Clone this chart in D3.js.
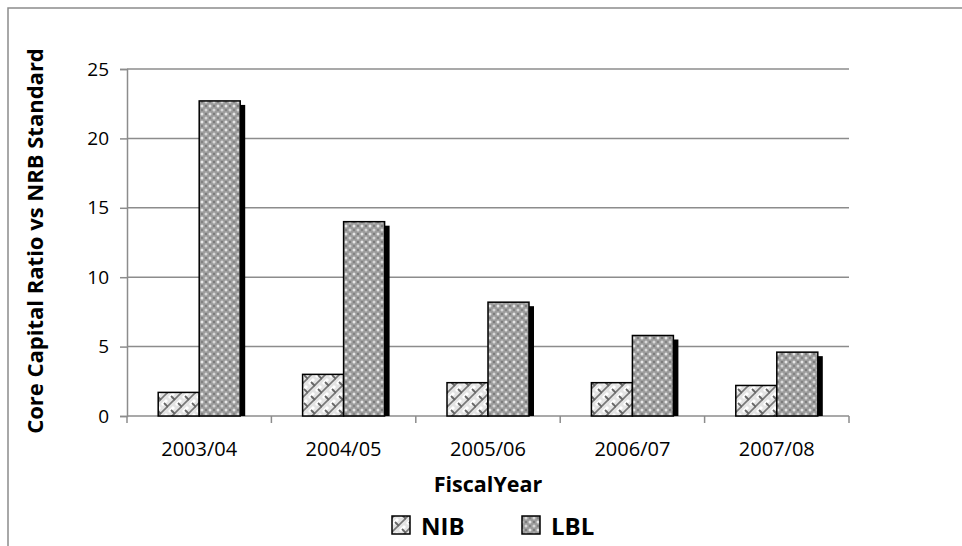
<!DOCTYPE html>
<html>
<head>
<meta charset="utf-8">
<script src="https://cdn.jsdelivr.net/npm/d3@7"></script>
<style>
  html, body { margin: 0; padding: 0; background: #fff; }
  svg { display: block; font-family: "Open Sans", "DejaVu Sans", sans-serif; }
</style>
</head>
<body>
<svg id="chart" width="962" height="546"></svg>
<script>
// Fiscal years on the category axis
const years = ["2003/04", "2004/05", "2005/06", "2006/07", "2007/08"];
// Core capital ratio for each bank
const nibValues = [1.7, 3.0, 2.4, 2.4, 2.2];
const lblValues = [22.7, 14.0, 8.2, 5.8, 4.6];
const seriesNames = ["NIB", "LBL"];
const yTicks = [0, 5, 10, 15, 20, 25];

const svg = d3.select("#chart");
const W = 962, H = 546;
const plot = { left: 127, right: 849, top: 69, bottom: 416 };

// Fill patterns for the two series
const defs = svg.append("defs");

// NIB: light diagonal brick weave
const pNib = defs.append("pattern")
  .attr("id", "pat-nib").attr("patternUnits", "userSpaceOnUse")
  .attr("width", 14).attr("height", 14);
pNib.append("rect").attr("width", 14).attr("height", 14).attr("fill", "#e4e4e4");
pNib.append("path").attr("d", "M1,6 L6,1 M8,13 L13,8 M-6,13 L-1,8 M8,-1 L13,-6")
  .attr("stroke", "#ffffff").attr("stroke-width", 3).attr("fill", "none");
pNib.append("path").attr("d", "M-2,16 L16,-2 M-9,9 L9,-9 M5,23 L23,5")
  .attr("stroke", "#777").attr("stroke-width", 1.6).attr("fill", "none");
pNib.append("path").attr("d", "M3,4 L7,8 M10,11 L14,15 M-4,11 L0,15 M10,-3 L14,1")
  .attr("stroke", "#666").attr("stroke-width", 1.8).attr("fill", "none");

// LBL: grey dotted mesh
const pLbl = defs.append("pattern")
  .attr("id", "pat-lbl").attr("patternUnits", "userSpaceOnUse")
  .attr("width", 8).attr("height", 8);
pLbl.append("rect").attr("width", 8).attr("height", 8).attr("fill", "#9c9c9c");
pLbl.append("circle").attr("cx", 2).attr("cy", 2).attr("r", 1.5).attr("fill", "#e6e6e6");
pLbl.append("circle").attr("cx", 6).attr("cy", 6).attr("r", 1.5).attr("fill", "#d8d8d8");
pLbl.append("circle").attr("cx", 6).attr("cy", 2).attr("r", 0.9).attr("fill", "#6e6e6e");
pLbl.append("circle").attr("cx", 2).attr("cy", 6).attr("r", 0.9).attr("fill", "#777");

const fills = { NIB: "url(#pat-nib)", LBL: "url(#pat-lbl)" };

// Chart area border
svg.append("path")
  .attr("d", `M8,${H} L8,8 L${W},8`)
  .attr("fill", "none").attr("stroke", "#8c8c8c").attr("stroke-width", 1.5);

const x = d3.scaleBand().domain(years).range([plot.left, plot.right]).paddingInner(0).paddingOuter(0);
const y = d3.scaleLinear().domain([0, 25]).range([plot.bottom, plot.top]);

// Horizontal gridlines
svg.append("g").selectAll("line").data(yTicks.filter(t => t > 0)).join("line")
  .attr("x1", plot.left).attr("x2", plot.right)
  .attr("y1", d => y(d)).attr("y2", d => y(d))
  .attr("stroke", "#8c8c8c").attr("stroke-width", 1.5);

// Y axis
const yAxis = svg.append("g").attr("transform", `translate(${plot.left},0)`)
  .call(d3.axisLeft(y).tickValues(yTicks).tickSize(7).tickPadding(11));
yAxis.select(".domain").attr("stroke", "#8c8c8c").attr("stroke-width", 1.5);
yAxis.selectAll(".tick line").attr("stroke", "#8c8c8c").attr("stroke-width", 1.5);
yAxis.selectAll(".tick text").attr("font-size", 19).attr("fill", "#000")
  .attr("font-family", "'Open Sans', sans-serif");

// X axis with ticks on category boundaries
const xAxisG = svg.append("g").attr("transform", `translate(0,${plot.bottom})`);
xAxisG.append("line").attr("x1", plot.left).attr("x2", plot.right)
  .attr("stroke", "#8c8c8c").attr("stroke-width", 1.5);
const bounds = years.map(d => x(d)).concat([x(years[years.length - 1]) + x.bandwidth()]);
xAxisG.selectAll("line.tk").data(bounds).join("line").attr("class", "tk")
  .attr("x1", d => d).attr("x2", d => d).attr("y1", 0).attr("y2", 7)
  .attr("stroke", "#8c8c8c").attr("stroke-width", 1.5);
xAxisG.selectAll("text").data(years).join("text")
  .attr("x", d => x(d) + x.bandwidth() / 2).attr("y", 40)
  .attr("text-anchor", "middle").attr("font-size", 20).attr("fill", "#000")
  .text(d => d);

// Bars
const barW = 41;
const rows = years.map((yr, i) => ({ yr, NIB: nibValues[i], LBL: lblValues[i] }));
const barData = [];
rows.forEach(r => seriesNames.forEach((s, j) => barData.push({ yr: r.yr, s, j, v: r[s] })));
const bx = d => x(d.yr) + x.bandwidth() / 2 - barW + d.j * barW;

const bars = svg.append("g");
bars.selectAll("rect.shadow").data(barData).join("rect").attr("class", "shadow")
  .attr("x", d => bx(d) + 5).attr("y", d => y(d.v) + 4)
  .attr("width", barW).attr("height", d => Math.max(0, y(0) - y(d.v) - 4))
  .attr("fill", "#000");
bars.selectAll("rect.bar").data(barData).join("rect").attr("class", "bar")
  .attr("x", d => bx(d)).attr("y", d => y(d.v))
  .attr("width", barW).attr("height", d => y(0) - y(d.v))
  .attr("fill", d => fills[d.s]).attr("stroke", "#000").attr("stroke-width", 1.5);

// Axis titles
svg.append("text")
  .attr("transform", "translate(43,241) rotate(-90)")
  .attr("text-anchor", "middle").attr("font-size", 22).attr("font-weight", "bold")
  .text("Core Capital Ratio vs NRB Standard");
svg.append("text")
  .attr("x", (plot.left + plot.right) / 2).attr("y", 492)
  .attr("text-anchor", "middle").attr("font-size", 21.5).attr("font-weight", "bold")
  .text("FiscalYear");

// Legend
const legendX = [392, 522];
const leg = svg.append("g");
seriesNames.forEach((s, i) => {
  leg.append("rect").attr("x", legendX[i]).attr("y", 516).attr("width", 18).attr("height", 18)
    .attr("fill", fills[s]).attr("stroke", "#000").attr("stroke-width", 1.5);
  leg.append("text").attr("x", legendX[i] + 29).attr("y", 535)
    .attr("font-size", 24).attr("font-weight", "bold").text(s);
});
</script>
</body>
</html>
